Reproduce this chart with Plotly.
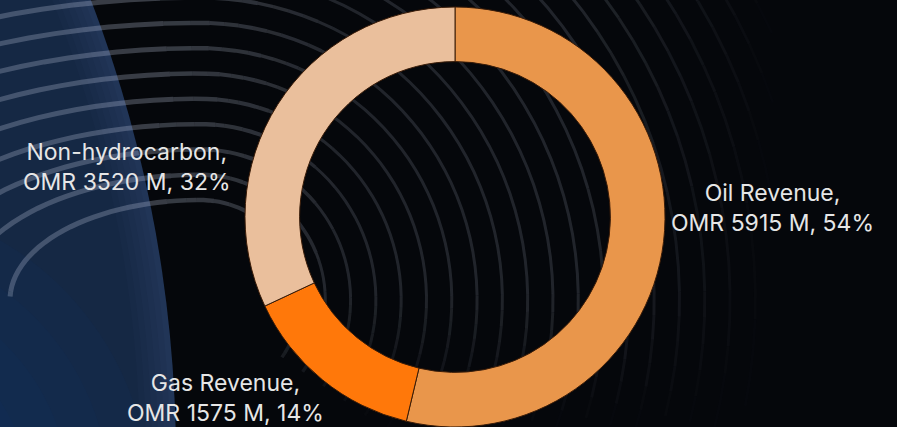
import numpy as np
import plotly.graph_objects as go

# Canvas size in pixels (margins are zero, so paper == canvas)
W, H = 897, 427

# --- Data -----------------------------------------------------------------
sources = ["Oil Revenue", "Gas Revenue", "Non-hydrocarbon"]
revenue_omr_m = [5915, 1575, 3520]
slice_colors = ["#E9964B", "#FF780A", "#EABF9C"]

total = sum(revenue_omr_m)
shares_pct = [round(100 * v / total) for v in revenue_omr_m]

# Label anchor points (pixel centres) for each slice, same order as sources
label_px = [(772, 208), (225, 398), (127, 167)]


def px(x, y):
    """Pixel position -> paper coordinates."""
    return x / W, 1 - y / H


def path_from(points):
    parts = []
    for i, (x, y) in enumerate(points):
        X, Y = px(x, y)
        parts.append(("M" if i == 0 else "L") + f"{X:.5f},{Y:.5f}")
    return " ".join(parts)


shapes = []

# --- Background: dark-blue planet on the left -----------------------------
pcx, pcy, pR = -1109.0, 460.0, 1285.0


def circle_shape(cx, cy, r, fill):
    x0, y1 = px(cx - r, cy - r)
    x1, y0 = px(cx + r, cy + r)
    return dict(type="circle", xref="paper", yref="paper", x0=x0, x1=x1,
                y0=y0, y1=y1, fillcolor=fill, line=dict(width=0),
                layer="below")


shapes.append(circle_shape(pcx, pcy, pR, "#213557"))
for i in range(1, 7):
    shapes.append(circle_shape(pcx, pcy, pR - 6 * i, "rgba(8,16,36,0.06)"))
# soft blue glow in the lower-left of the planet
for r in range(300, 100, -40):
    shapes.append(circle_shape(-150, 500, r, "rgba(20,55,130,0.07)"))

# --- Background: concentric sweeping rings ---------------------------------
rcx, rcy = 200.0, 300.0
stretch_left = 1.9
radii = np.arange(100.0, 640.0, 25.3)


def ring_point(r, theta):
    c, s = np.cos(theta), np.sin(theta)
    k = 1.0 if c >= 0 else stretch_left
    return rcx + k * r * c, rcy - r * s


def ring_style(x, y):
    if x < -20 or x > W + 20 or y < -20 or y > H + 20:
        return 0.0, 0.0
    fade_right = np.clip((780 - x) / 200, 0, 1)
    fade_low = np.clip((430 - y) / 140, 0, 1)
    left = float(np.clip((340 - x) / 180, 0, 1))
    alpha = 0.15 * fade_right * fade_low * (1.0 + 0.8 * left)
    width = 3.0 + 1.8 * left
    return round(float(alpha), 2), round(width * 2) / 2


step = np.radians(3)
thetas = np.arange(np.radians(-35), np.radians(180) + 1e-9, step)
for r in radii:
    runs = []
    for t0 in thetas[:-1]:
        p0 = ring_point(r, t0)
        p1 = ring_point(r, t0 + step)
        st = ring_style((p0[0] + p1[0]) / 2, (p0[1] + p1[1]) / 2)
        if runs and runs[-1][0] == st:
            runs[-1][1].append(p1)
        else:
            runs.append([st, [p0, p1]])
    for (a, w), pts in runs:
        if a <= 0:
            continue
        shapes.append(dict(type="path", xref="paper", yref="paper",
                           path=path_from(pts), layer="below",
                           line=dict(color=f"rgba(195,205,225,{a})", width=w)))

# --- Donut -----------------------------------------------------------------
cx_px, cy_px, rad_px = 455, 217, 210
dom_x = [(cx_px - rad_px) / W, (cx_px + rad_px) / W]
dom_y = [1 - (cy_px + rad_px) / H, 1 - (cy_px - rad_px) / H]

fig = go.Figure(go.Pie(
    labels=sources,
    values=revenue_omr_m,
    hole=0.74,
    sort=False,
    direction="clockwise",
    rotation=0,
    marker=dict(colors=slice_colors, line=dict(color="#3a1c08", width=1)),
    textinfo="none",
    hovertemplate="%{label}: OMR %{value} M (%{percent})<extra></extra>",
    domain=dict(x=dom_x, y=dom_y),
    showlegend=False,
))

annotations = []
for name, val, pct, (lx, ly) in zip(sources, revenue_omr_m, shares_pct, label_px):
    X, Y = px(lx, ly)
    annotations.append(dict(
        x=X, y=Y, xref="paper", yref="paper", xanchor="center", yanchor="middle",
        text=f"{name},<br>OMR {val} M, {pct}%", showarrow=False, align="center",
        font=dict(family="Inter, Lato, sans-serif", size=23, color="#E6E6E6"),
    ))

fig.update_layout(
    width=W, height=H,
    margin=dict(l=0, r=0, t=0, b=0),
    paper_bgcolor="#05070b",
    plot_bgcolor="#05070b",
    shapes=shapes,
    annotations=annotations,
)

fig.write_html("out.html")
